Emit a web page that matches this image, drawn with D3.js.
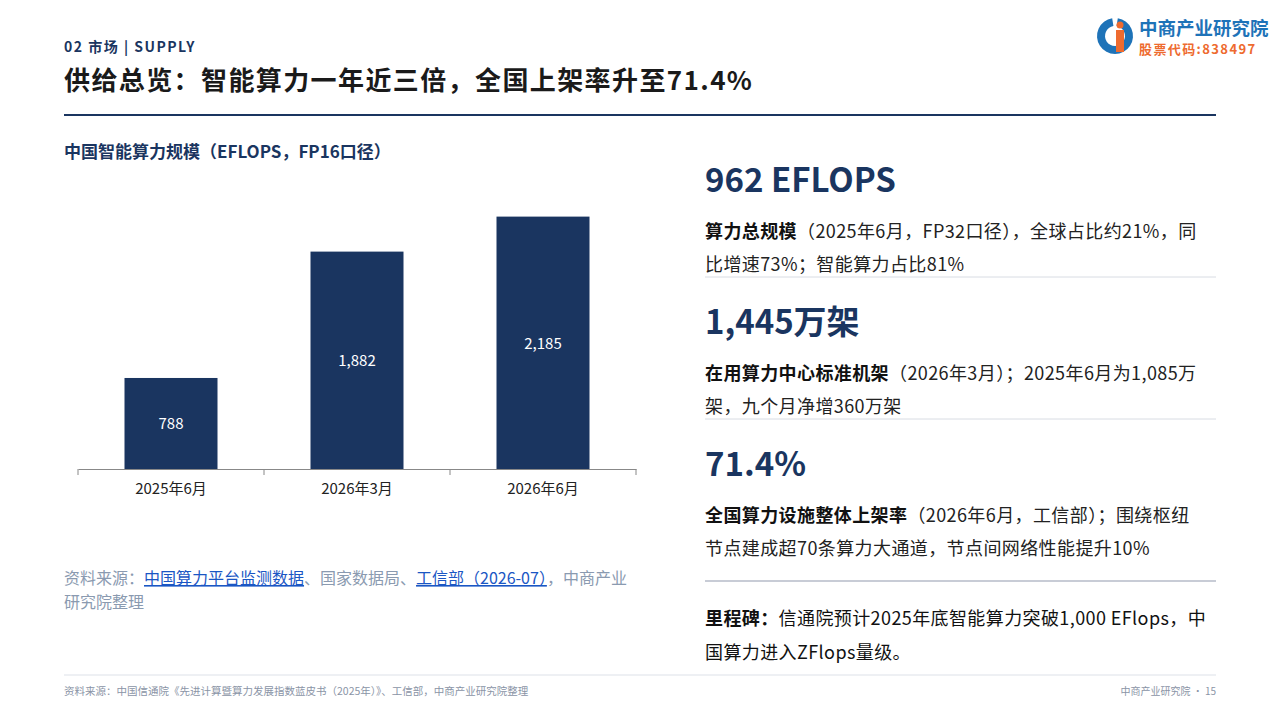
<!DOCTYPE html><html><head><meta charset="utf-8"><script src="https://cdn.jsdelivr.net/npm/d3@7"></script>
<style>body{margin:0;background:#fff;font-family:"Noto Sans CJK SC","Noto Sans",sans-serif}</style></head><body>
<svg id="c" width="1280" height="720"></svg>
<script>
const categories=["2025年6月","2026年3月","2026年6月"];
const values=[788,1882,2185];
const labels=["788","1,882","2,185"];
const svg=d3.select("#c");
const F='"Noto Sans CJK SC","Noto Sans",sans-serif';
const navy="#1a3560";
function t(x,y,s,size,fill,weight,anchor){return svg.append("text").attr("x",x).attr("y",y).text(s).attr("font-size",size).attr("fill",fill).attr("font-weight",weight||400).attr("text-anchor",anchor||"start").attr("font-family",F);}
t(64,52,"02 市场 | SUPPLY",14,navy,700).attr("letter-spacing",1.5);
t(64,90,"供给总览：智能算力一年近三倍，全国上架率升至71.4%",26,"#1a1a1a",700).attr("letter-spacing",1.4);
svg.append("rect").attr("x",64).attr("y",114).attr("width",1152).attr("height",2).attr("fill",navy);
// logo
const lg=svg.append("g").attr("transform","translate(1115,36)");
lg.append("path").attr("d",d3.arc()({innerRadius:10,outerRadius:18,startAngle:Math.PI*0.05,endAngle:Math.PI*1.95})).attr("fill","#1e73b8");
lg.append("rect").attr("x",1).attr("y",-6).attr("width",8).attr("height",22).attr("fill","#ee6b2f");
lg.append("circle").attr("cx",5).attr("cy",-11).attr("r",3.5).attr("fill","#ee6b2f");
t(1139,35,"中商产业研究院",18.5,"#1e73b8",700);
t(1139,54,"股票代码:838497",13,"#ee6b2f",700).attr("letter-spacing",1.4);
// chart
t(64,158,"中国智能算力规模（EFLOPS，FP16口径）",17,navy,700);
const x=d3.scaleBand().domain(categories).range([78,636]).padding(0.5).paddingOuter(0.25);
const y=d3.scaleLinear().domain([0,2424]).range([469,189]);
svg.selectAll(".bar").data(values).join("rect").attr("x",(d,i)=>x(categories[i])).attr("width",x.bandwidth()).attr("y",d=>y(d)).attr("height",d=>469-y(d)).attr("fill",navy);
svg.selectAll(".vl").data(values).join("text").attr("x",(d,i)=>x(categories[i])+x.bandwidth()/2).attr("y",d=>(y(d)+469)/2+6).attr("text-anchor","middle").attr("fill","#fff").attr("font-size",15).attr("font-family",F).text((d,i)=>labels[i]);
const ax=svg.append("g").attr("transform","translate(0,469)").call(d3.axisBottom(x).tickSize(0).tickPadding(14).tickSizeOuter(0));
ax.select(".domain").attr("stroke","#888");
ax.selectAll("text").attr("font-size",15).attr("fill","#222").attr("font-family",F);
[78,264,450,636].forEach(v=>svg.append("line").attr("x1",v).attr("x2",v).attr("y1",469).attr("y2",475).attr("stroke","#888"));
// source
const s=svg.append("text").attr("x",64).attr("y",584).attr("font-size",16).attr("font-family",F).attr("fill","#8a9ab0");
s.append("tspan").text("资料来源：");
s.append("tspan").text("中国算力平台监测数据").attr("fill","#1a56c4").attr("text-decoration","underline");
s.append("tspan").text("、国家数据局、");
s.append("tspan").text("工信部（2026-07）").attr("fill","#1a56c4").attr("text-decoration","underline");
s.append("tspan").text("，中商产业");
t(64,608,"研究院整理",16,"#8a9ab0");
// right panel
const R=705;
function block(y0,big,boldTxt,rest,line2,sep){
 t(R,y0,big,33,navy,700);
 const a=svg.append("text").attr("x",R).attr("y",y0+46).attr("font-size",18).attr("font-family",F).attr("fill","#222").attr("letter-spacing",0.4);
 a.append("tspan").text(boldTxt).attr("font-weight",700).attr("fill","#111");
 a.append("tspan").text(rest);
 t(R,y0+79,line2,18,"#222").attr("letter-spacing",0.4);
 if(sep) svg.append("line").attr("x1",R).attr("x2",1216).attr("y1",y0+85).attr("y2",y0+85).attr("stroke","#d8dce3");
}
block(192,"962 EFLOPS","算力总规模","（2025年6月，FP32口径），全球占比约21%，同","比增速73%；智能算力占比81%",true);
block(334,"1,445万架","在用算力中心标准机架","（2026年3月）；2025年6月为1,085万","架，九个月净增360万架",true);
block(476,"71.4%","全国算力设施整体上架率","（2026年6月，工信部）；围绕枢纽","节点建成超70条算力大通道，节点间网络性能提升10%",false);
svg.append("line").attr("x1",R).attr("x2",1216).attr("y1",581).attr("y2",581).attr("stroke","#c8ccd6").attr("stroke-width",2);
const m=svg.append("text").attr("x",R).attr("y",625).attr("font-size",18).attr("font-family",F).attr("fill","#111").attr("letter-spacing",0.4);
m.append("tspan").text("里程碑：").attr("font-weight",700);
m.append("tspan").text("信通院预计2025年底智能算力突破1,000 EFlops，中");
t(R,659,"国算力进入ZFlops量级。",18,"#111").attr("letter-spacing",0.4);
// footer
svg.append("line").attr("x1",64).attr("x2",1216).attr("y1",675).attr("y2",675).attr("stroke","#dde1e8");
t(64,695,"资料来源：中国信通院《先进计算暨算力发展指数蓝皮书（2025年）》、工信部，中商产业研究院整理",10.5,"#8a94a6");
t(1216,695,"中商产业研究院 · 15",10,"#8a94a6",400,"end");
</script></body></html>
